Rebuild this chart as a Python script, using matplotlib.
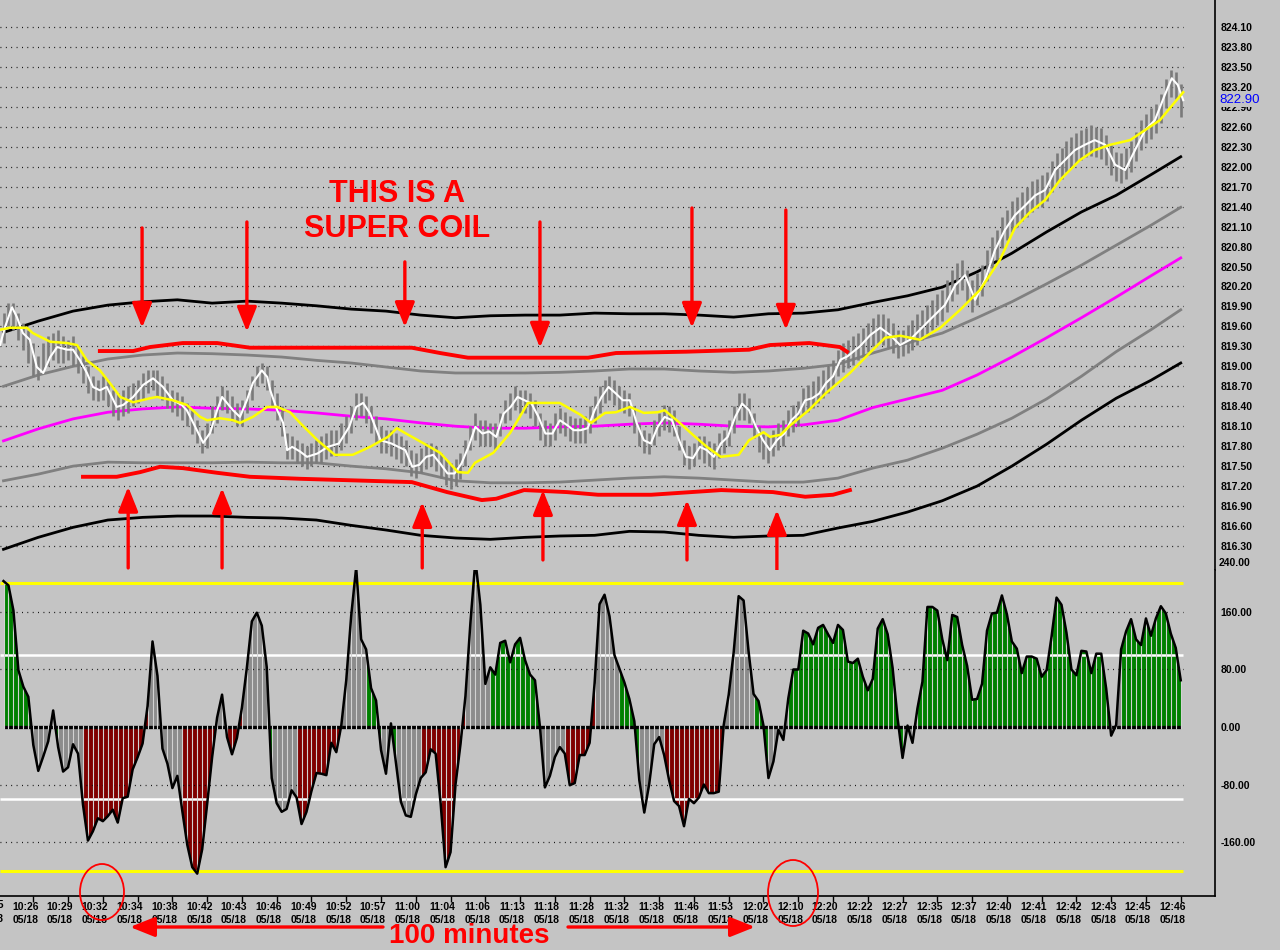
import numpy as np
import matplotlib
matplotlib.use('Agg')
import matplotlib.pyplot as plt
from matplotlib.patches import Ellipse, FancyArrowPatch
from matplotlib.transforms import ScaledTranslation

# ---------------- data ----------------
time_labels = ["10:26", "10:29", "10:32", "10:34", "10:38", "10:42", "10:43", "10:46", "10:49",
               "10:52", "10:57", "11:00", "11:04", "11:06", "11:13", "11:18", "11:28", "11:32",
               "11:38", "11:46", "11:53", "12:02", "12:10", "12:20", "12:22", "12:27", "12:35",
               "12:37", "12:40", "12:41", "12:42", "12:43", "12:45", "12:46"]
date_label = "05/18"
tick_bars = [6 + 7 * k for k in range(len(time_labels))]

# price bars (high / low), one per bar
bar_hi = [819.80, 819.95, 819.95, 819.80, 819.65, 819.55, 819.35, 819.15, 819.35, 819.45,
          819.50, 819.55, 819.45, 819.40, 819.45, 819.30, 819.15, 819.00, 818.85, 818.80,
          818.85, 818.80, 818.65, 818.60, 818.65, 818.70, 818.75, 818.80, 818.90, 818.95,
          818.95, 818.95, 818.85, 818.75, 818.65, 818.62, 818.55, 818.45, 818.35, 818.20,
          818.05, 818.15, 818.40, 818.55, 818.70, 818.65, 818.55, 818.45, 818.50, 818.65,
          818.85, 819.00, 819.05, 819.00, 818.80, 818.60, 818.40, 818.00, 817.95, 817.90,
          817.85, 817.80, 817.85, 817.90, 817.95, 818.00, 818.05, 818.05, 818.15, 818.25,
          818.40, 818.60, 818.60, 818.55, 818.40, 818.25, 818.10, 818.05, 818.05, 818.00,
          817.95, 817.90, 817.75, 817.70, 817.78, 817.85, 817.85, 817.80, 817.70, 817.60,
          817.55, 817.60, 817.70, 817.90, 818.10, 818.30, 818.20, 818.20, 818.15, 818.15,
          818.30, 818.50, 818.60, 818.70, 818.65, 818.65, 818.60, 818.50, 818.30, 818.20,
          818.15, 818.30, 818.38, 818.32, 818.25, 818.22, 818.22, 818.25, 818.40, 818.55,
          818.70, 818.80, 818.85, 818.80, 818.70, 818.65, 818.60, 818.40, 818.15, 818.05,
          818.00, 818.20, 818.30, 818.42, 818.40, 818.35, 818.10, 817.90, 817.80, 817.85,
          817.95, 817.95, 817.88, 817.85, 818.00, 818.05, 818.20, 818.40, 818.60, 818.60,
          818.52, 818.30, 818.10, 817.98, 817.95, 818.05, 818.15, 818.20, 818.35, 818.42,
          818.48, 818.68, 818.72, 818.78, 818.85, 818.95, 819.00, 819.10, 819.25, 819.35,
          819.40, 819.45, 819.50, 819.58, 819.65, 819.72, 819.78, 819.78, 819.72, 819.65,
          819.55, 819.55, 819.62, 819.70, 819.78, 819.85, 819.92, 820.00, 820.08, 820.15,
          820.30, 820.45, 820.55, 820.60, 820.45, 820.30, 820.40, 820.52, 820.75, 820.95,
          821.05, 821.25, 821.35, 821.48, 821.55, 821.62, 821.70, 821.78, 821.82, 821.88,
          821.92, 822.08, 822.20, 822.28, 822.38, 822.45, 822.50, 822.55, 822.58, 822.62,
          822.60, 822.58, 822.48, 822.32, 822.22, 822.20, 822.28, 822.38, 822.52, 822.70,
          822.80, 822.88, 822.95, 823.10, 823.32, 823.45, 823.42, 823.25]
bar_lo = [819.35, 819.60, 819.55, 819.40, 819.25, 819.05, 818.85, 818.80, 818.90, 819.00,
          819.10, 819.05, 819.05, 819.10, 819.00, 818.90, 818.75, 818.60, 818.50, 818.48,
          818.50, 818.40, 818.25, 818.20, 818.25, 818.30, 818.40, 818.45, 818.50, 818.60,
          818.65, 818.55, 818.50, 818.38, 818.32, 818.25, 818.20, 818.10, 817.98, 817.85,
          817.70, 817.78, 818.00, 818.15, 818.35, 818.30, 818.18, 818.10, 818.10, 818.30,
          818.50, 818.70, 818.75, 818.65, 818.40, 818.20, 817.95, 817.60, 817.60, 817.55,
          817.50, 817.45, 817.50, 817.55, 817.55, 817.60, 817.65, 817.65, 817.75, 817.85,
          818.00, 818.20, 818.25, 818.15, 818.00, 817.85, 817.70, 817.70, 817.65, 817.60,
          817.55, 817.50, 817.35, 817.32, 817.40, 817.45, 817.50, 817.42, 817.32, 817.22,
          817.15, 817.20, 817.30, 817.50, 817.75, 817.90, 817.80, 817.80, 817.80, 817.75,
          817.95, 818.15, 818.20, 818.35, 818.30, 818.30, 818.22, 818.10, 817.90, 817.80,
          817.80, 817.90, 818.00, 817.95, 817.88, 817.85, 817.85, 817.85, 818.00, 818.15,
          818.30, 818.45, 818.50, 818.42, 818.35, 818.30, 818.25, 818.00, 817.80, 817.70,
          817.68, 817.82, 817.95, 818.05, 818.02, 817.95, 817.75, 817.52, 817.45, 817.50,
          817.60, 817.55, 817.50, 817.45, 817.62, 817.70, 817.80, 818.00, 818.20, 818.20,
          818.15, 817.92, 817.72, 817.60, 817.55, 817.65, 817.75, 817.80, 817.95, 818.02,
          818.10, 818.28, 818.32, 818.38, 818.45, 818.52, 818.60, 818.70, 818.85, 818.92,
          818.98, 819.02, 819.10, 819.15, 819.22, 819.30, 819.35, 819.32, 819.28, 819.20,
          819.12, 819.15, 819.20, 819.25, 819.32, 819.40, 819.48, 819.55, 819.62, 819.68,
          819.82, 819.98, 820.08, 820.15, 819.98, 819.82, 819.92, 820.05, 820.28, 820.48,
          820.60, 820.78, 820.90, 821.02, 821.10, 821.18, 821.25, 821.32, 821.38, 821.40,
          821.48, 821.62, 821.75, 821.82, 821.92, 822.00, 822.05, 822.10, 822.14, 822.16,
          822.15, 822.12, 822.02, 821.88, 821.78, 821.75, 821.82, 821.92, 822.08, 822.25,
          822.35, 822.42, 822.50, 822.65, 822.88, 823.05, 823.02, 822.75]

# CCI-like oscillator, one value per bar
cci = [203, 197, 162, 79, 56, 42, -25, -61, -41, -20,
       23, -28, -62, -56, -24, -37, -108, -158, -145, -127,
       -131, -124, -115, -133, -99, -97, -59, -42, -23, 29,
       119, 71, -30, -51, -85, -68, -117, -164, -195, -204,
       -170, -107, -42, 13, 45, -14, -38, -15, 27, 83,
       147, 159, 141, 83, -71, -106, -118, -114, -88, -98,
       -135, -118, -89, -64, -65, -67, -22, -35, 2, 65,
       155, 222, 122, 108, 54, 37, -32, -65, 5, -50,
       -104, -123, -125, -94, -71, -63, -31, -37, -106, -195,
       -174, -80, -24, 43, 145, 232, 170, 60, 83, 73,
       117, 120, 90, 115, 124, 93, 73, 65, 0, -84,
       -68, -42, -28, -37, -81, -78, -39, -39, -22, 61,
       171, 184, 154, 100, 81, 62, 39, 8, -74, -119,
       -79, -24, -14, -39, -74, -103, -110, -138, -100, -106,
       -98, -80, -92, -92, -90, 3, 45, 104, 182, 176,
       105, 46, 36, 2, -71, -48, -4, -18, 40, 80,
       80, 134, 130, 115, 138, 142, 129, 117, 142, 135,
       91, 89, 95, 70, 51, 67, 137, 150, 129, 82,
       12, -43, 2, -22, 26, 63, 167, 167, 162, 122,
       93, 156, 153, 114, 85, 38, 39, 60, 134, 158,
       159, 183, 157, 119, 109, 75, 98, 98, 95, 70,
       79, 126, 180, 170, 131, 80, 72, 106, 105, 75,
       102, 102, 53, -12, 3, 108, 133, 150, 122, 114,
       151, 127, 151, 168, 158, 130, 110, 65]
# histogram colour regime per bar (G green, N neutral grey, R dark red)
regime_runs = [('G', 6), ('N', 4), ('G', 1), ('N', 5), ('R', 13), ('N', 7), ('R', 7), ('N', 2),
               ('R', 3), ('N', 5), ('G', 1), ('N', 5), ('R', 9), ('N', 5), ('G', 3), ('N', 2),
               ('G', 1), ('N', 5), ('R', 9), ('N', 5), ('G', 10), ('N', 5), ('R', 6), ('N', 5),
               ('G', 4), ('N', 5), ('R', 12), ('N', 6), ('G', 3), ('N', 4), ('G', 23), ('N', 3),
               ('G', 39), ('N', 2), ('G', 13)]

# bands, sampled every 7 bars
band_t = [0, 7, 14, 21, 28, 35, 42, 49, 56, 63, 70, 77, 84, 91, 98, 105, 112, 119, 126, 133,
          140, 147, 154, 161, 168, 175, 182, 189, 196, 203, 210, 217, 224, 231, 237]
outer_up = [819.51, 819.68, 819.83, 819.92, 819.97, 820.00, 819.95, 819.98, 819.95, 819.91,
            819.86, 819.83, 819.77, 819.73, 819.76, 819.77, 819.77, 819.80, 819.79, 819.79,
            819.77, 819.74, 819.79, 819.80, 819.85, 819.96, 820.06, 820.19, 820.42, 820.70,
            821.02, 821.32, 821.57, 821.88, 822.15]
inner_up = [818.70, 818.87, 819.00, 819.11, 819.17, 819.20, 819.19, 819.17, 819.14, 819.09,
            819.05, 818.99, 818.93, 818.90, 818.90, 818.90, 818.91, 818.93, 818.96, 818.96,
            818.93, 818.91, 818.93, 818.97, 819.03, 819.20, 819.35, 819.50, 819.73, 819.97,
            820.24, 820.52, 820.82, 821.12, 821.39]
mid_line = [817.88, 818.06, 818.21, 818.31, 818.36, 818.39, 818.37, 818.36, 818.34, 818.30,
            818.25, 818.21, 818.15, 818.10, 818.07, 818.07, 818.09, 818.10, 818.13, 818.15,
            818.13, 818.10, 818.09, 818.12, 818.19, 818.38, 818.51, 818.64, 818.87, 819.14,
            819.43, 819.73, 820.04, 820.36, 820.63]
inner_dn = [817.28, 817.38, 817.50, 817.56, 817.55, 817.55, 817.55, 817.56, 817.55, 817.55,
            817.50, 817.46, 817.40, 817.28, 817.25, 817.25, 817.26, 817.29, 817.32, 817.34,
            817.32, 817.29, 817.26, 817.26, 817.32, 817.47, 817.59, 817.77, 817.98, 818.22,
            818.51, 818.85, 819.22, 819.55, 819.85]
outer_dn = [816.25, 816.43, 816.58, 816.69, 816.73, 816.75, 816.75, 816.73, 816.72, 816.69,
            816.61, 816.54, 816.46, 816.42, 816.40, 816.43, 816.45, 816.46, 816.52, 816.51,
            816.46, 816.43, 816.45, 816.46, 816.57, 816.67, 816.81, 816.98, 817.20, 817.50,
            817.83, 818.19, 818.52, 818.79, 819.05]

# slow average (yellow)
slow_t = [-0.7, 1.3, 4.7, 5.9, 9.4, 12.8, 14.8, 16.8, 19.4, 21.4, 23.5, 26.1, 29.5, 30.9, 34.1,
          36.9, 39.6, 41.0, 43.6, 46.2, 47.6, 50.2, 53.1, 55.1, 57.7,
          59.7, 63.2, 66.7, 70.3, 73.8, 77.4, 79.2, 80.8, 84.4, 87.9, 91.5, 93.5, 94.9, 98.6,
          102.0, 105.6, 109.1, 112.0, 116.2, 118.3, 121.1, 123.3, 126.1, 128.9, 131.7, 133.1,
          136.0, 138.8, 141.6, 144.4, 148.0, 150.1, 153.0, 154.3, 156.4, 158.5, 162.1, 165.6,
          170.4, 174.5, 177.5, 180.5, 184.5, 188.6, 192.6, 196.6, 200.6, 203.6, 206.7, 209.7,
          212.7, 216.7, 219.7, 222.8, 226.8, 229.8, 232.8, 234.8, 237.5]
slow_v = [819.55, 819.58, 819.58, 819.50, 819.37, 819.35, 819.32, 819.09, 818.94, 818.75,
          818.54, 818.46, 818.52, 818.54, 818.49, 818.42, 818.24, 818.19, 818.22, 818.19,
          818.15, 818.24, 818.39, 818.39, 818.31,
          818.15, 817.89, 817.67, 817.67, 817.79, 817.94, 818.07, 818.00, 817.85, 817.70,
          817.41, 817.40, 817.55, 817.70, 818.00, 818.45, 818.45, 818.45, 818.27, 818.15,
          818.30, 818.31, 818.39, 818.30, 818.31, 818.34, 818.16, 817.97, 817.79, 817.64,
          817.67, 817.89, 818.01, 817.94, 817.97, 818.12, 818.34, 818.60, 818.90,
          819.21, 819.43, 819.46, 819.40, 819.58, 819.85, 820.15, 820.60, 821.08, 821.32,
          821.50, 821.80, 822.10, 822.25, 822.33, 822.40, 822.55, 822.70, 822.88, 823.12]

# fast average (white)
fast_t = [-0.7, 0.3, 1.7, 2.7, 3.9, 5.3, 6.7, 8.0, 9.4, 10.8, 12.8, 14.0, 15.4, 16.8, 18.0,
          19.4, 20.8, 22.8, 24.1, 26.1, 28.1, 30.1, 32.1, 34.1, 35.9, 36.9, 38.2, 40.2, 41.6,
          43.0, 44.0, 45.0, 46.2, 47.6, 49.0, 50.2, 52.0, 53.1, 53.7, 55.1, 56.3, 57.1, 58.1,
          59.7, 61.1, 63.2, 65.3, 67.5, 69.6, 71.0, 72.4, 73.8, 75.9, 78.1, 79.5, 80.9, 82.3,
          83.7, 85.1, 86.5, 87.9, 89.4, 90.8, 92.2, 93.6, 95.0, 96.4, 97.8, 99.2, 100.7, 102.1,
          103.5, 104.9, 106.3, 107.7, 109.1, 110.5, 112.0, 113.4, 114.8, 116.2, 117.6, 119.0,
          120.4, 121.8, 123.3, 124.7, 126.1, 127.5, 128.9, 130.3, 131.7, 133.1, 134.6, 136.0,
          137.4, 138.8, 140.2, 141.6, 143.0, 144.4, 145.8, 147.3, 148.7, 150.1, 151.5, 152.9,
          154.3, 155.7, 157.2, 158.6, 160.0, 161.4, 162.8, 164.2, 165.6, 167.0, 168.5, 169.9,
          172.4, 174.5, 176.5, 178.5, 180.5, 182.5, 184.5, 186.5, 189.5, 191.6, 193.6, 195.6,
          197.6, 199.6, 201.6, 203.6, 205.7, 207.7, 209.7, 211.7, 213.7, 215.7, 217.7, 219.7,
          221.8, 223.8, 225.8, 227.8, 229.8, 231.8, 233.8, 235.2, 236.4, 237.5]
fast_v = [819.32, 819.59, 819.89, 819.74, 819.50, 819.40, 818.99, 818.90, 819.14, 819.29,
          819.25, 819.25, 819.09, 818.90, 818.69, 818.64, 818.69, 818.39, 818.42, 818.54,
          818.72, 818.82, 818.69, 818.49, 818.42, 818.34, 818.15, 817.85, 818.00, 818.34,
          818.54, 818.45, 818.34, 818.24, 818.49, 818.75, 818.94, 818.84, 818.64, 818.34,
          818.15, 817.74, 817.79,
          817.72, 817.64, 817.69, 817.79, 817.84, 818.09, 818.39, 818.45, 818.29, 817.89,
          817.84, 817.79, 817.74, 817.49, 817.52, 817.64, 817.67, 817.54, 817.39, 817.39,
          817.54, 817.79, 818.09, 817.99, 818.02, 817.94, 818.29, 818.39, 818.54, 818.49,
          818.44, 818.24, 817.99, 817.99, 818.19, 818.12, 818.04, 818.04, 818.07, 818.34,
          818.54, 818.69, 818.59, 818.49, 818.49, 818.14, 817.89, 817.84, 818.09, 818.24,
          818.19, 817.89, 817.64, 817.62, 817.79, 817.74, 817.64, 817.84, 817.94, 818.24,
          818.44, 818.34, 818.09, 817.89, 817.74, 817.89, 817.99, 818.19, 818.29, 818.49,
          818.52, 818.59, 818.75, 818.85, 819.10, 819.15,
          819.30, 819.47, 819.58, 819.47, 819.32, 819.40, 819.55, 819.70, 819.92, 820.22,
          820.37, 820.00, 820.30, 820.75, 821.05, 821.27, 821.42, 821.57, 821.65, 821.95,
          822.10, 822.25, 822.33, 822.40, 822.33, 822.03, 821.95, 822.25, 822.55, 822.70,
          823.08, 823.33, 823.23, 823.00]
last_price = 822.90

# hand drawn coil boundaries
coil_up_t = [19.4, 26.1, 29.5, 36.1, 43.0, 49.6, 59.7, 82.2, 87.9, 93.5, 117.7, 123.3, 137.4,
             150.1, 154.3, 162.2, 168.4, 169.8]
coil_up_v = [819.23, 819.23, 819.29, 819.35, 819.35, 819.28, 819.28, 819.28, 819.20, 819.13,
             819.13, 819.20, 819.22, 819.25, 819.32, 819.35, 819.29, 819.22]
coil_dn_t = [16.0, 22.8, 27.5, 31.5, 36.1, 43.0, 49.6, 59.7, 82.2, 89.3, 96.3, 99.2, 104.8,
             113.4, 119.7, 130.4, 144.5, 154.9, 161.4, 167.0, 170.4]
coil_dn_v = [817.34, 817.34, 817.41, 817.49, 817.47, 817.40, 817.34, 817.31, 817.26, 817.11,
             816.99, 817.01, 817.14, 817.11, 817.07, 817.07, 817.14, 817.11, 817.04, 817.07,
             817.14]
# arrows: bar, start price, tip price
down_arrows = [(27.9, 821.08, 819.58), (49.0, 821.17, 819.52), (80.8, 820.57, 819.59),
               (108.0, 821.17, 819.28), (138.6, 821.38, 819.58), (157.5, 821.35, 819.55)]
up_arrows = [(25.1, 815.97, 817.19), (44.0, 815.97, 817.17), (84.3, 815.97, 816.96),
             (108.6, 816.09, 817.14), (137.6, 816.09, 816.99), (155.7, 815.94, 816.84)]

price_ticks = np.round(np.arange(816.30, 824.11, 0.30), 2)
osc_ticks = [160, 80, 0, -80, -160]

# ---------------- style ----------------
BG = '#c4c4c4'
RED = '#ff0000'
W, H = 1280, 950
plt.rcParams['font.family'] = ['Liberation Sans', 'DejaVu Sans']

fig = plt.figure(figsize=(12.8, 9.5), dpi=100)
fig.patch.set_facecolor(BG)
ax = fig.add_axes([0, 1 - 570 / H, 1215 / W, 570 / H])
ax2 = fig.add_axes([0, 1 - 896 / H, 1215 / W, (896 - 570) / H])
for a in (ax, ax2):
    a.set_facecolor(BG)
    a.set_xlim(-0.705, 243.9)
    for s in ('top', 'left'):
        a.spines[s].set_visible(False)
    a.spines['right'].set_linewidth(1.2)
ax.spines['bottom'].set_visible(False)
ax2.spines['bottom'].set_linewidth(1.2)

n = len(cci)
t = np.arange(n)
x_end = n - 0.5
dots = (0, (0.7, 3.6))

# ---- price panel ----
ax.set_ylim(815.939, 824.506)
ax.hlines(price_ticks, -0.7, x_end, colors='black', linestyles=dots, lw=0.9)
ax.plot(band_t, outer_up, color='black', lw=2)
ax.plot(band_t, outer_dn, color='black', lw=2)
ax.plot(band_t, inner_up, color='#808080', lw=2)
ax.plot(band_t, inner_dn, color='#808080', lw=2)
ax.plot(band_t, mid_line, color='#ff00ff', lw=2)
ax.vlines(np.arange(len(bar_hi)), bar_lo, bar_hi, colors='#7a7a7a', lw=1.9)
ax.plot(fast_t, fast_v, color='white', lw=1.5)
ax.plot(slow_t, slow_v, color='#ffff00', lw=1.8)
ax.plot(coil_up_t, coil_up_v, color=RED, lw=2.8)
ax.plot(coil_dn_t, coil_dn_v, color=RED, lw=2.8)

arrow_kw = dict(arrowstyle='-|>,head_length=0.75,head_width=0.3', color=RED, lw=2.4,
                shrinkA=0, shrinkB=0, mutation_scale=20)
for xb, y0, y1 in down_arrows + up_arrows:
    ax.annotate('', xy=(xb, y1), xytext=(xb, y0), arrowprops=arrow_kw, annotation_clip=False)

ax.text(79.2, 821.33, 'THIS IS A\nSUPER COIL', color=RED, fontsize=22, fontweight='bold',
        ha='center', va='center', linespacing=1.2)

ax.yaxis.tick_right()
ax.set_yticks(price_ticks)
ax.set_yticklabels([f'{v:.2f}' for v in price_ticks])
ax.tick_params(axis='y', length=0, pad=4, labelsize=7.5)
ax.set_xticks([])
for lab in ax.get_yticklabels():
    lab.set_fontweight('bold')

# ---- oscillator panel ----
ax2.set_ylim(-235.1, 218.4)
colour = {'G': '#008000', 'N': '#8c8c8c', 'R': '#800000'}
codes = ''.join(c * k for c, k in regime_runs)
ax2.hlines([160, 80, -80, -160], -0.7, x_end, colors='black', linestyles=dots, lw=0.9)
ax2.hlines([100, -100], -0.7, x_end, colors='white', lw=1.8)
ax2.hlines([200, -200], -0.7, x_end, colors='#ffff00', lw=2.2)
for i in range(n - 1):
    ax2.fill_between(t[i:i + 2], cci[i:i + 2], 0, color=colour[codes[i]], lw=0)
ax2.hlines(0, 0, n - 1, colors='black', lw=2.4)
ax2.vlines(t, 0, cci, colors='#d2d2d2', lw=0.8)
ax2.vlines(t, -3, 3, colors='#d2d2d2', lw=0.8)
ax2.plot(t, cci, color='black', lw=1.8)

ax2.yaxis.tick_right()
ax2.set_yticks(osc_ticks)
ax2.set_yticklabels([f'{v:.2f}' for v in osc_ticks])
ax2.tick_params(axis='y', length=0, pad=4, labelsize=7.5)
ax2.set_xticks(tick_bars)
ax2.set_xticklabels([f'{tm}\n{date_label}' for tm in time_labels], linespacing=1.45)
ax2.tick_params(axis='x', length=4, width=1, pad=0, labelsize=7.5)
shift = ScaledTranslation(-0.08, 0, fig.dpi_scale_trans)
for lab in ax2.get_xticklabels():
    lab.set_fontweight('bold')
    lab.set_transform(lab.get_transform() + shift)
for lab in ax2.get_yticklabels():
    lab.set_fontweight('bold')

fig.text(1219 / W, 1 - 563 / H, '240.00', fontsize=7.5, fontweight='bold', va='center')
fig.text(-9.7 / W, 1 - 912 / H, '10:25\n05/18', fontsize=7.5, fontweight='bold',
         ha='center', va='center', linespacing=1.45)
fig.text(1219 / W, 1 - 100 / H, f'{last_price:.2f}', color='blue', fontsize=9.5,
         va='center', ha='left', bbox=dict(fc=BG, ec='none', pad=0.5))

# ---- bottom annotations ----
fig.text(469 / W, 1 - 936 / H, '100 minutes', color=RED, fontsize=20, fontweight='bold',
         ha='center', va='center')
fig_arrow = dict(arrowstyle='-|>,head_length=0.75,head_width=0.3', color=RED, lw=2.4,
                 shrinkA=0, shrinkB=0, mutation_scale=20)
fig.add_artist(FancyArrowPatch((383 / W, 1 - 927 / H), (130 / W, 1 - 927 / H),
                               transform=fig.transFigure, **fig_arrow))
fig.add_artist(FancyArrowPatch((568 / W, 1 - 927 / H), (755 / W, 1 - 927 / H),
                               transform=fig.transFigure, **fig_arrow))
for cx, cy, ew, eh in [(102, 892, 44, 56), (793, 893, 50, 66)]:
    fig.add_artist(Ellipse((cx / W, 1 - cy / H), ew / W, eh / H, transform=fig.transFigure,
                           fill=False, ec=RED, lw=1.3))

fig.savefig('out.png', dpi=100, facecolor=BG)
